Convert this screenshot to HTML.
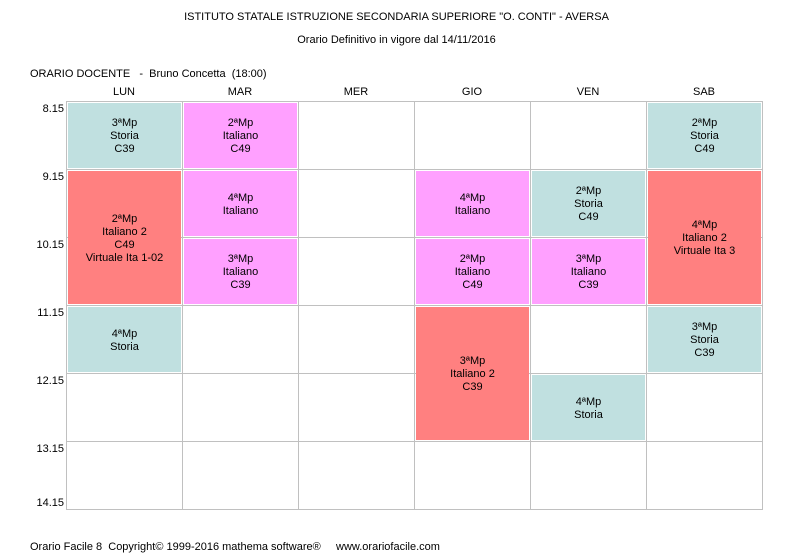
<!DOCTYPE html>
<html><head><meta charset="utf-8"><style>
body{margin:0;width:793px;height:559px;background:#fff;position:relative;overflow:hidden;font-family:"Liberation Sans",sans-serif;font-size:11px;color:#000}
div{position:absolute}
.t{white-space:nowrap}
.c{display:flex;align-items:center;justify-content:center;text-align:center;line-height:13px;box-sizing:border-box;padding-top:2px}
.h{width:116px;text-align:center;top:86px}
.tm{right:729px;text-align:right}
.vl{width:1px;background:#c0c0c0;top:101px;height:409px}
.hl{height:1px;background:#c0c0c0;left:66px;width:697px}
.a{background:#c0e0e0}.m{background:#ffa0ff}.r{background:#ff8080}
</style></head><body>
<div class="t" style="left:0;width:793px;text-align:center;top:11px">ISTITUTO STATALE ISTRUZIONE SECONDARIA SUPERIORE "O. CONTI" - AVERSA</div>
<div class="t" style="left:0;width:793px;text-align:center;top:34px">Orario Definitivo in vigore dal 14/11/2016</div>
<div class="t" style="left:30px;top:68px">ORARIO DOCENTE &nbsp; - &nbsp;Bruno Concetta &nbsp;(18:00)</div>
<div class="h" style="left:66px">LUN</div><div class="h" style="left:182px">MAR</div><div class="h" style="left:298px">MER</div><div class="h" style="left:414px">GIO</div><div class="h" style="left:530px">VEN</div><div class="h" style="left:646px">SAB</div>
<div class="tm" style="top:103px">8.15</div><div class="tm" style="top:171px">9.15</div><div class="tm" style="top:239px">10.15</div><div class="tm" style="top:307px">11.15</div><div class="tm" style="top:375px">12.15</div><div class="tm" style="top:443px">13.15</div><div class="tm" style="top:497px">14.15</div>
<div class="vl" style="left:66px"></div><div class="vl" style="left:182px"></div><div class="vl" style="left:298px"></div><div class="vl" style="left:414px"></div><div class="vl" style="left:530px"></div><div class="vl" style="left:646px"></div><div class="vl" style="left:762px"></div>
<div class="hl" style="top:101px"></div><div class="hl" style="top:169px"></div><div class="hl" style="top:237px"></div><div class="hl" style="top:305px"></div><div class="hl" style="top:373px"></div><div class="hl" style="top:441px"></div><div class="hl" style="top:509px"></div>
<div class="c a" style="left:68px;top:103px;width:113px;height:65px">3ªMp<br>Storia<br>C39</div>
<div class="c m" style="left:184px;top:103px;width:113px;height:65px">2ªMp<br>Italiano<br>C49</div>
<div class="c a" style="left:648px;top:103px;width:113px;height:65px">2ªMp<br>Storia<br>C49</div>
<div class="c r" style="left:68px;top:171px;width:113px;height:133px">2ªMp<br>Italiano 2<br>C49<br>Virtuale Ita 1-02</div>
<div class="c m" style="left:184px;top:171px;width:113px;height:65px">4ªMp<br>Italiano</div>
<div class="c m" style="left:416px;top:171px;width:113px;height:65px">4ªMp<br>Italiano</div>
<div class="c a" style="left:532px;top:171px;width:113px;height:65px">2ªMp<br>Storia<br>C49</div>
<div class="c r" style="left:648px;top:171px;width:113px;height:133px">4ªMp<br>Italiano 2<br>Virtuale Ita 3</div>
<div class="c m" style="left:184px;top:239px;width:113px;height:65px">3ªMp<br>Italiano<br>C39</div>
<div class="c m" style="left:416px;top:239px;width:113px;height:65px">2ªMp<br>Italiano<br>C49</div>
<div class="c m" style="left:532px;top:239px;width:113px;height:65px">3ªMp<br>Italiano<br>C39</div>
<div class="c a" style="left:68px;top:307px;width:113px;height:65px">4ªMp<br>Storia</div>
<div class="c r" style="left:416px;top:307px;width:113px;height:133px">3ªMp<br>Italiano 2<br>C39</div>
<div class="c a" style="left:648px;top:307px;width:113px;height:65px">3ªMp<br>Storia<br>C39</div>
<div class="c a" style="left:532px;top:375px;width:113px;height:65px">4ªMp<br>Storia</div>
<div class="t" style="left:30px;top:541px">Orario Facile 8 &nbsp;Copyright© 1999-2016 mathema software® &nbsp; &nbsp; www.orariofacile.com</div>
</body></html>
